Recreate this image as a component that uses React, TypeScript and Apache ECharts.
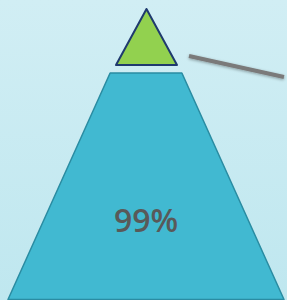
import React, { useEffect, useRef } from "react";
import * as echarts from "echarts";

const levels = ["Top", "Base"];
const levelValues = [100, 100];
const levelLabels = ["", "99%"];

export default function App() {
  const ref = useRef<HTMLDivElement>(null);
  useEffect(() => {
    document.body.style.margin = "0";
    const chart = echarts.init(ref.current!, null, { renderer: "svg" });
    chart.setOption({
      animation: false,
      series: [
        {
          type: "funnel",
          sort: "ascending",
          left: 116,
          top: 9,
          width: 61,
          height: 56,
          min: 0,
          max: 100,
          minSize: "0%",
          maxSize: "100%",
          gap: 0,
          silent: true,
          label: { show: false },
          labelLine: { show: false },
          itemStyle: { color: "#92d14f", borderColor: "#1f3a6e", borderWidth: 2, borderJoin: "miter" },
          data: [{ name: levels[0], value: levelValues[0] }],
        },
        {
          type: "funnel",
          sort: "ascending",
          left: 8,
          top: 73,
          width: 276,
          height: 226.5,
          min: 0,
          max: 100,
          minSize: "26%",
          maxSize: "100%",
          gap: 0,
          silent: true,
          label: {
            show: true,
            position: "inside",
            formatter: () => levelLabels[1],
            fontSize: 32,
            fontWeight: 600,
            fontFamily: "Open Sans",
            color: "#595959",
          },
          labelLayout: { dy: 33 },
          labelLine: { show: false },
          itemStyle: { color: "#41b9d1", borderColor: "#2a8ca2", borderWidth: 1.5 },
          data: [{ name: levels[1], value: levelValues[1] }],
        },
      ],
      graphic: [
        {
          type: "line",
          shape: { x1: 189, y1: 56, x2: 284, y2: 77 },
          style: {
            stroke: "#7a7a7a",
            lineWidth: 4,
            shadowBlur: 3,
            shadowColor: "rgba(0,0,0,0.35)",
            shadowOffsetY: 1,
          },
          silent: true,
        },
      ],
    });
    return () => chart.dispose();
  }, []);
  return (
    <div
      ref={ref}
      style={{
        position: "fixed",
        left: 0,
        top: 0,
        width: 287,
        height: 300,
        background: "linear-gradient(to bottom, #d1eef4, #bfe7ef)",
      }}
    />
  );
}
